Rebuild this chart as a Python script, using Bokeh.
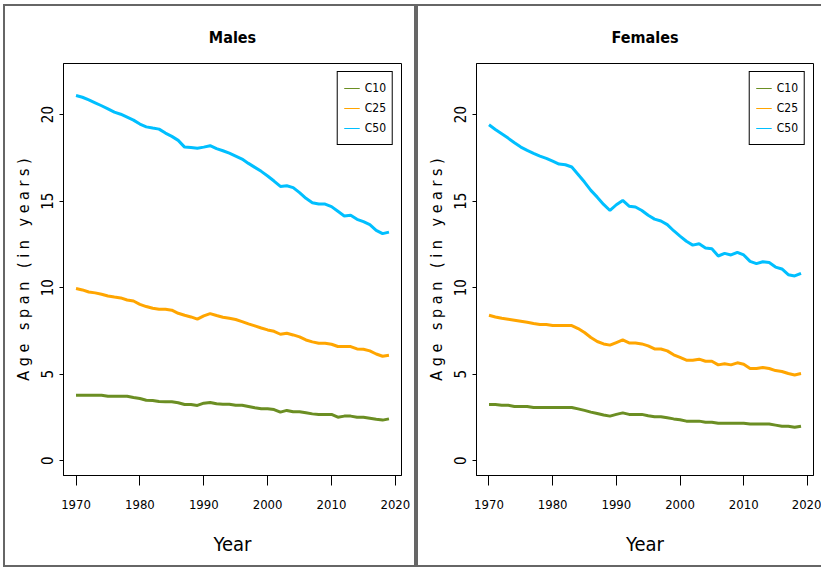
from bokeh.plotting import figure
from bokeh.layouts import row
from bokeh.models import FixedTicker, Range1d, Legend, LegendItem
from bokeh.embed import file_html
from bokeh.resources import INLINE

years = list(range(1970, 2020))

male_c10 = [3.79, 3.79, 3.79, 3.79, 3.79, 3.73, 3.73, 3.73, 3.73, 3.66,
            3.60, 3.50, 3.48, 3.43, 3.41, 3.41, 3.35, 3.25, 3.25, 3.20,
            3.33, 3.37, 3.29, 3.27, 3.27, 3.21, 3.21, 3.14, 3.06, 3.00,
            3.00, 2.96, 2.81, 2.91, 2.83, 2.83, 2.77, 2.71, 2.68, 2.68,
            2.68, 2.52, 2.58, 2.58, 2.52, 2.52, 2.46, 2.40, 2.35, 2.42]
male_c25 = [9.95, 9.87, 9.75, 9.70, 9.62, 9.52, 9.46, 9.41, 9.29, 9.23,
            9.04, 8.91, 8.81, 8.75, 8.75, 8.70, 8.52, 8.41, 8.31, 8.18,
            8.37, 8.50, 8.39, 8.29, 8.23, 8.16, 8.04, 7.91, 7.79, 7.67,
            7.56, 7.48, 7.31, 7.37, 7.27, 7.16, 6.98, 6.87, 6.79, 6.79,
            6.73, 6.60, 6.60, 6.60, 6.46, 6.44, 6.35, 6.17, 6.04, 6.10]
male_c50 = [21.10, 21.00, 20.85, 20.68, 20.51, 20.33, 20.14, 20.02, 19.85, 19.68,
            19.45, 19.29, 19.22, 19.16, 18.93, 18.74, 18.51, 18.12, 18.10, 18.06,
            18.12, 18.20, 18.03, 17.91, 17.77, 17.60, 17.43, 17.18, 16.95, 16.72,
            16.45, 16.16, 15.85, 15.89, 15.78, 15.49, 15.16, 14.91, 14.83, 14.83,
            14.68, 14.41, 14.14, 14.18, 13.95, 13.81, 13.64, 13.31, 13.12, 13.21]

female_c10 = [3.25, 3.25, 3.21, 3.21, 3.14, 3.14, 3.14, 3.08, 3.08, 3.08,
              3.08, 3.08, 3.08, 3.08, 3.00, 2.91, 2.81, 2.73, 2.65, 2.58,
              2.68, 2.77, 2.68, 2.68, 2.68, 2.60, 2.54, 2.54, 2.48, 2.42,
              2.37, 2.29, 2.29, 2.29, 2.23, 2.23, 2.17, 2.17, 2.17, 2.17,
              2.17, 2.12, 2.12, 2.12, 2.12, 2.06, 2.00, 2.00, 1.94, 2.00]
female_c25 = [8.41, 8.31, 8.23, 8.18, 8.12, 8.06, 8.00, 7.93, 7.87, 7.87,
              7.81, 7.81, 7.81, 7.81, 7.64, 7.41, 7.12, 6.89, 6.75, 6.68,
              6.83, 6.98, 6.81, 6.81, 6.75, 6.64, 6.46, 6.46, 6.35, 6.12,
              5.97, 5.81, 5.81, 5.87, 5.75, 5.75, 5.54, 5.60, 5.54, 5.66,
              5.58, 5.33, 5.33, 5.39, 5.33, 5.21, 5.16, 5.04, 4.96, 5.04]
female_c50 = [19.41, 19.14, 18.89, 18.64, 18.37, 18.12, 17.93, 17.76, 17.60, 17.47,
              17.31, 17.14, 17.10, 16.97, 16.54, 16.10, 15.62, 15.23, 14.81, 14.46,
              14.79, 15.04, 14.71, 14.66, 14.46, 14.18, 13.96, 13.85, 13.64, 13.29,
              12.98, 12.68, 12.46, 12.54, 12.29, 12.25, 11.83, 11.98, 11.89, 12.04,
              11.89, 11.52, 11.39, 11.50, 11.45, 11.19, 11.08, 10.75, 10.68, 10.83]

series_names = ["C10", "C25", "C50"]
series_colors = ["#6B8E23", "#FFA500", "#00BFFF"]
x_ticks = [1970, 1980, 1990, 2000, 2010, 2020]
y_ticks = [0, 5, 10, 15, 20]

# condensed faces first, plain sans as the fallback
FONT = "'Liberation Sans Narrow', 'DejaVu Sans Condensed', 'Arial Narrow', 'Liberation Sans', sans-serif"
FRAME_GREY = "#666666"
NB = "\u00a0"
Y_LABEL = (NB * 3).join(NB.join(word) for word in ["Age", "span", "(in", "years)"])


def panel(title, c10, c25, c50, width, height, border_right, frame_css):
    p = figure(width=width, height=height, output_backend="svg",
               toolbar_location=None, title=title,
               x_range=Range1d(1968.04, 2020.96), y_range=Range1d(-0.85, 22.95),
               min_border_left=58, min_border_right=border_right,
               min_border_top=57, min_border_bottom=94)
    p.styles = frame_css

    p.title.align = "center"
    p.title.text_font = FONT
    p.title.text_font_size = "16px"
    p.title.text_font_style = "bold"
    p.title.text_color = "black"
    p.title.standoff = 34

    p.outline_line_color = "black"
    p.outline_line_width = 1
    p.outline_line_alpha = 1
    p.xgrid.visible = False
    p.ygrid.visible = False

    for ax in (p.xaxis[0], p.yaxis[0]):
        ax.axis_line_color = "black"
        ax.major_tick_line_color = "black"
        ax.minor_tick_line_color = None
        ax.major_tick_in = 0
        ax.major_label_text_font = FONT
        ax.major_label_text_color = "black"
        ax.axis_label_text_font = FONT
        ax.axis_label_text_font_style = "normal"
        ax.axis_label_text_color = "black"

    p.xaxis.ticker = FixedTicker(ticks=x_ticks)
    p.xaxis.major_tick_out = 10
    p.xaxis.major_label_standoff = 14
    p.xaxis.major_label_text_font_size = "13px"
    p.xaxis.axis_label = "Year"
    p.xaxis.axis_label_text_font_size = "20px"
    p.xaxis.axis_label_standoff = 20

    p.yaxis.ticker = FixedTicker(ticks=y_ticks)
    p.yaxis.major_tick_out = 4
    p.yaxis.major_label_standoff = 6
    p.yaxis.major_label_orientation = "vertical"
    p.yaxis.major_label_text_font_size = "15px"
    p.yaxis.axis_label = Y_LABEL
    p.yaxis.axis_label_text_font_size = "16px"
    p.yaxis.axis_label_standoff = 6

    for vals, color in zip((c10, c25, c50), series_colors):
        p.line(years, vals, line_color=color, line_width=3)

    # thin key lines for the legend (no visible points of their own)
    items = []
    for name, color in zip(series_names, series_colors):
        r = p.line([years[0]], [float("nan")], line_color=color, line_width=1)
        items.append(LegendItem(label=name, renderers=[r]))
    legend = Legend(items=items, location="top_right")
    legend.margin = 8
    legend.padding = 6
    legend.spacing = 0
    legend.label_height = 20
    legend.glyph_height = 20
    legend.glyph_width = 16
    legend.label_standoff = 5
    legend.label_text_font = FONT
    legend.label_text_font_size = "12px"
    legend.label_text_color = "black"
    legend.border_line_color = "black"
    legend.border_line_width = 1
    legend.border_line_alpha = 1
    legend.background_fill_alpha = 1
    p.add_layout(legend)
    return p


left = panel("Males", male_c10, male_c25, male_c50, 413, 563, 17,
             {"border": f"2px solid {FRAME_GREY}"})
left.margin = (4, 0, 0, 3)
right = panel("Females", female_c10, female_c25, female_c50, 405, 563, 10,
              {"border-left": f"2px solid {FRAME_GREY}",
               "border-top": f"2px solid {FRAME_GREY}",
               "border-bottom": f"2px solid {FRAME_GREY}"})
right.margin = (4, 0, 0, 0)

layout = row(left, right)
open("out.html", "w").write(file_html(layout, INLINE))
